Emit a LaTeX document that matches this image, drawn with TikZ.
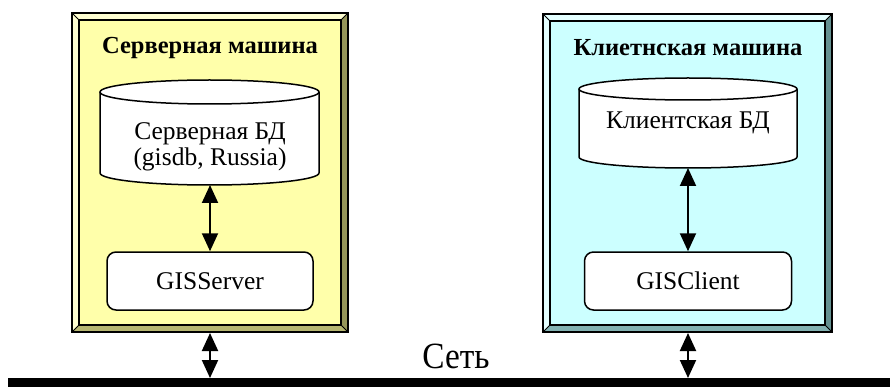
\documentclass[tikz,border=0pt]{standalone}
\usepackage{fontspec}
\setmainfont{Liberation Serif}
\usetikzlibrary{arrows.meta}
\definecolor{ylwfill}{RGB}{255,255,170}
\definecolor{ylwlight}{RGB}{255,255,210}
\definecolor{ylwdark}{RGB}{150,150,90}
\definecolor{cynfill}{RGB}{204,255,255}
\definecolor{cynlight}{RGB}{228,255,255}
\definecolor{cyndark}{RGB}{100,145,145}
\tikzset{
  title/.style={font=\fontsize{24.5}{28}\selectfont\bfseries},
  body/.style={font=\fontsize{25.5}{29}\selectfont, align=center},
  progbox/.style={draw, line width=1.5pt, fill=white, rounded corners=9pt},
  link/.style={line width=2pt, {Triangle[width=16pt,length=18pt]}-{Triangle[width=16pt,length=18pt]}},
  outline/.style={line width=1.5pt, line join=miter}
}
% bevelled machine frame: outer corners, bevel width, fill colours
\newcommand{\bevelframe}[8]{%
  % #1,#2 = outer top-left x,y ; #3,#4 = outer bottom-right x,y ; #5 = bevel
  % #6 = face, #7 = light, #8 = dark ; bottom bevel uses a mid tone
  \fill[#7] (#1,#2) -- (#3,#2) -- ({#3-#5},{#2+#5}) -- ({#1+#5},{#2+#5}) -- cycle;
  \fill[#7] (#1,#2) -- ({#1+#5},{#2+#5}) -- ({#1+#5},{#4-#5}) -- (#1,#4) -- cycle;
  \fill[#8] (#3,#2) -- (#3,#4) -- ({#3-#5},{#4-#5}) -- ({#3-#5},{#2+#5}) -- cycle;
  \fill[#8!70!#6] (#1,#4) -- (#3,#4) -- ({#3-#5},{#4-#5}) -- ({#1+#5},{#4-#5}) -- cycle;
  \fill[#6] ({#1+#5},{#2+#5}) rectangle ({#3-#5},{#4-#5});
  \draw[outline] (#1,#2) rectangle (#3,#4);
  \draw[outline] ({#1+#5},{#2+#5}) rectangle ({#3-#5},{#4-#5});
  \draw[line width=0.9pt] (#1,#2) -- ({#1+#5},{#2+#5}) (#3,#2) -- ({#3-#5},{#2+#5})
    (#1,#4) -- ({#1+#5},{#4-#5}) (#3,#4) -- ({#3-#5},{#4-#5});
}
% database cylinder: left x, right x, top centre y, bottom centre y, ellipse radius
\newcommand{\dbcyl}[5]{%
  \filldraw[fill=white, line width=1.5pt]
    (#1,#3) -- (#1,#4)
    arc[start angle=180, end angle=0, x radius={(#2-#1)/2}, y radius=#5]
    -- (#2,#3);
  \filldraw[fill=white, line width=1.5pt] ({(#1+#2)/2},#3) ellipse [x radius={(#2-#1)/2}, y radius=#5];
}
\begin{document}
\begin{tikzpicture}[x=1pt, y=-1pt]
\useasboundingbox (0,0) rectangle (890,387);

% server machine
\bevelframe{72}{13}{348}{332}{7}{ylwfill}{ylwlight}{ylwdark}
\node[title] (stitle) at (210,48) {Серверная машина};
\dbcyl{100}{319}{92}{173}{12}
\node[body] (sdb) at (210,147) {Серверная БД\\[-3pt](gisdb, Russia)};
\coordinate (sdbbase) at (210,185);
\node[progbox, minimum width=206pt, minimum height=58pt, body] (srv) at (210,281) {GISServer};
\coordinate (sframe) at (210,333);

% client machine
\bevelframe{543}{14}{832}{332}{7}{cynfill}{cynlight}{cyndark}
\node[title] (ctitle) at (688,48) {Клиетнская машина};
\dbcyl{579}{797}{89}{157}{11}
\node[body] (cdb) at (688,123) {Клиентская БД};
\coordinate (cdbbase) at (688,168);
\node[progbox, minimum width=207pt, minimum height=58pt, body] (cli) at (688,281) {GISClient};
\coordinate (cframe) at (688,333);

% network bus
\fill (8,378) rectangle (890,387);
\coordinate (sbus) at (210,378);
\coordinate (cbus) at (688,378);
\node[font=\fontsize{37}{40}\selectfont, anchor=base, xscale=0.9, inner sep=0pt] (net) at (456,368) {Сеть};

% links
\draw[link] (sdbbase) -- (srv.north);
\draw[link] (cdbbase) -- (cli.north);
\draw[link] (sframe) -- (sbus);
\draw[link] (cframe) -- (cbus);
\end{tikzpicture}
\end{document}
